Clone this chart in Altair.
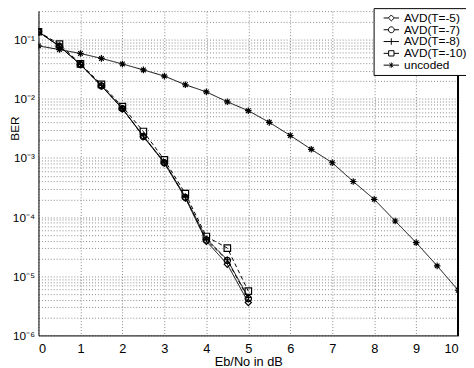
import altair as alt
import pandas as pd

# ---- data ----
series_names = ["AVD(T=-5)", "AVD(T=-7)", "AVD(T=-8)", "AVD(T=-10)", "uncoded"]

ebno_avd = [0, 0.5, 1, 1.5, 2, 2.5, 3, 3.5, 4, 4.5, 5]
ber_t5 = [0.136, 0.077, 0.038, 0.0165, 6.8e-3, 2.3e-3, 8.2e-4, 2.1e-4, 3.9e-5, 1.6e-5, 3.6e-6]
ber_t7 = [0.136, 0.077, 0.038, 0.0165, 6.8e-3, 2.3e-3, 8.3e-4, 2.15e-4, 4.1e-5, 1.85e-5, 4.2e-6]
ber_t8 = [0.136, 0.078, 0.038, 0.0168, 6.9e-3, 2.35e-3, 8.5e-4, 2.2e-4, 4.3e-5, 1.9e-5, 4.4e-6]
ber_t10 = [0.136, 0.084, 0.039, 0.0175, 7.4e-3, 2.8e-3, 9.3e-4, 2.5e-4, 4.7e-5, 3.0e-5, 5.6e-6]

ebno_unc = [0, 0.5, 1, 1.5, 2, 2.5, 3, 3.5, 4, 4.5, 5, 5.5, 6, 6.5, 7, 7.5, 8, 8.5, 9, 9.5, 10]
ber_unc = [0.0785, 0.068, 0.0584, 0.0482, 0.0388, 0.0308, 0.0242, 0.0173, 0.0131, 0.0089,
           0.0063, 0.0040, 0.0024, 0.0014, 8.3e-4, 4.0e-4, 2.0e-4, 8.6e-5, 3.7e-5, 1.5e-5, 5.8e-6]

x_ticks = list(range(0, 11))
y_ticks = [float(f"{k}e{e}") for e in range(-6, 0) for k in range(1, 10)]
y_ticks = [v for v in y_ticks if v <= 0.3]

# ---- long table ----
rows = []
for name, vals in zip(series_names[:4], [ber_t5, ber_t7, ber_t8, ber_t10]):
    for x, y in zip(ebno_avd, vals):
        rows.append({"series": name, "ebno": x, "ber": y})
for x, y in zip(ebno_unc, ber_unc):
    rows.append({"series": "uncoded", "ebno": x, "ber": y})
df = pd.DataFrame(rows)

plus_path = "M-1,0H1M0,-1V1"
star_path = "M-1,0H1M0,-1V1M-0.7,-0.7L0.7,0.7M-0.7,0.7L0.7,-0.7"
marker_shapes = ["diamond", "circle", plus_path, "square", star_path]
marker_sizes = [40, 45, 50, 40, 30]
dashes = [[1, 0], [4, 3], [1, 0], [4, 3], [1, 0]]

leg_shapes = [
    "M-2.6,0H-1M1,0H2.6M0,-1L1,0L0,1L-1,0Z",
    "M-2.6,0H-1M1,0H2.6M-1,0A1,1 0 1,0 1,0A1,1 0 1,0 -1,0",
    "M-2.6,0H2.6M0,-1.1V1.1",
    "M-2.6,0H-0.9M0.9,0H2.6M-0.9,-0.9H0.9V0.9H-0.9Z",
    "M-2.6,0H2.6M0,-0.9V0.9M-0.65,-0.65L0.65,0.65M-0.65,0.65L0.65,-0.65",
]

x_enc = alt.X("ebno:Q",
              scale=alt.Scale(domain=[0, 10], nice=False, zero=False),
              axis=alt.Axis(values=x_ticks, title="Eb/No in dB", grid=True,
                            gridDash=[1, 2], gridColor="#888", ticks=False,
                            labelPadding=7, titlePadding=1, domainColor="black",
                            labelFontSize=13, titleFontSize=13, titleFontWeight="normal",
                            labelColor="black", titleColor="black"))

label_expr = ("abs(log(datum.value)/LN10 - round(log(datum.value)/LN10)) < 0.01 ? "
              "['10⁻⁶','10⁻⁵','10⁻⁴','10⁻³','10⁻²','10⁻¹','10⁰'][round(log(datum.value)/LN10)+6] : ''")

y_enc = alt.Y("ber:Q",
              scale=alt.Scale(type="log", domain=[1e-6, 0.304], nice=False),
              axis=alt.Axis(values=y_ticks, labelExpr=label_expr, title="BER", grid=True,
                            gridDash=[1, 2], gridColor="#888", ticks=False,
                            labelOverlap=False, labelPadding=4, domainColor="black",
                            labelFontSize=12, titleFontSize=12, titleFontWeight="normal",
                            titleX=-17, titleY=119, labelColor="black", titleColor="black"))

base = alt.Chart(df)

lines = base.mark_line(color="black", strokeWidth=1, clip=True).encode(
    x=x_enc, y=y_enc,
    detail="series:N",
    strokeDash=alt.StrokeDash("series:N",
                              scale=alt.Scale(domain=series_names, range=dashes),
                              legend=None),
)

points = base.mark_point(color="black", filled=False, strokeWidth=1.2, opacity=1, clip=True).encode(
    x=x_enc, y=y_enc,
    shape=alt.Shape("series:N", scale=alt.Scale(domain=series_names, range=marker_shapes),
                    legend=None),
    size=alt.Size("series:O", scale=alt.Scale(domain=series_names, range=marker_sizes),
                  legend=None),
)

legend_layer = base.transform_filter("false").mark_point(
    color="black", filled=False, strokeWidth=1, opacity=1).encode(
    x=x_enc, y=y_enc,
    shape=alt.Shape("series:N",
                    scale=alt.Scale(domain=series_names, range=leg_shapes),
                    legend=alt.Legend(title=None, orient="none", legendX=341, legendY=-3,
                                      symbolSize=36, symbolStrokeWidth=1,
                                      symbolStrokeColor="black", symbolFillColor="white",
                                      symbolOffset=8, labelOffset=7,
                                      labelFontSize=12, labelColor="black",
                                      rowPadding=-3, padding=4,
                                      strokeColor="black", fillColor="white")),
)

frame = alt.Chart(df).mark_rule(color="black", strokeWidth=1).encode(x=alt.datum(10))

chart = alt.layer(lines, points, legend_layer, frame).resolve_scale(
    shape="independent"
).properties(
    width=427, height=330,
    autosize=alt.AutoSizeParams(type="none"),
    padding={"left": 31, "top": 0, "right": 8, "bottom": 30},
).configure(
    font="Liberation Sans",
).configure_view(stroke=None)

chart.save("out.html", embed_options={"renderer": "svg", "actions": False})
